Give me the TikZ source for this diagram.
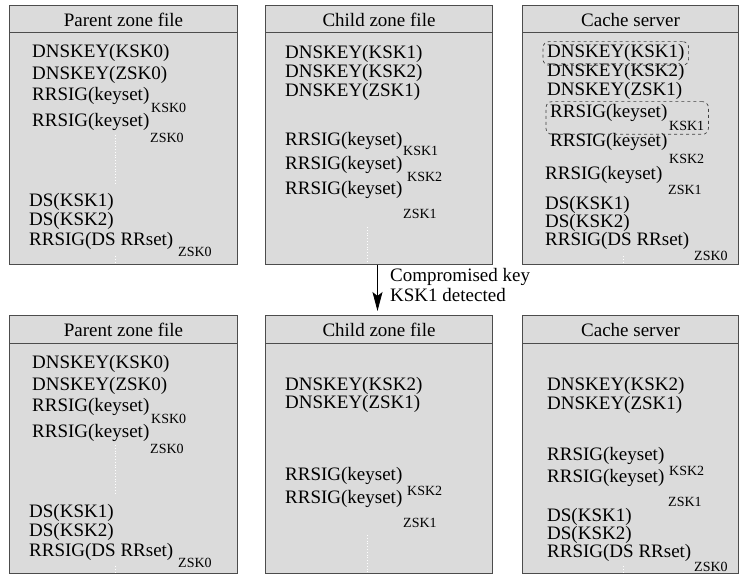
\documentclass[tikz,border=0pt]{standalone}
\usepackage{fontspec}
\setmainfont{Liberation Serif}
\usetikzlibrary{arrows.meta,fit}

\begin{document}
\begin{tikzpicture}[
  x=1pt,y=-1pt,
  >=Stealth,
  zonebox/.style={
    draw=black!70,
    fill=black!14,
    line width=1pt,
    anchor=north west,
    inner sep=0pt
  },
  title/.style={font=\fontsize{19}{20}\selectfont,anchor=base,inner sep=0pt},
  rec/.style={font=\fontsize{19}{20}\selectfont,anchor=base west,inner sep=0pt},
  signer/.style={font=\fontsize{14}{15}\selectfont,anchor=base west,inner sep=0pt},
  gap/.style={draw=white,dotted,line width=0.8pt},
  flagbox/.style={
    draw=black!75,
    dashed,
    rounded corners=6pt,
    line width=0.7pt,
    inner xsep=4pt,
    inner ysep=3pt
  }
]
\useasboundingbox (0,0) rectangle (740,575);

% 親ゾーン (上下とも同じ内容)
\foreach \r/\dy/\h in {a/0/259,b/310/258}{
  \node[zonebox,minimum width=228pt,minimum height=\h pt] (p\r) at (9,{5+\dy}) {};
  \draw[draw=black!70,line width=1pt]
    ([yshift=-28pt]p\r.north west) -- ([yshift=-28pt]p\r.north east);
  \node[title] (p\r t) at ([yshift=-22pt]p\r.north) {Parent zone file};

  \node[rec] (p\r 1) at (32,{58+\dy}) {DNSKEY(KSK0)};
  \node[rec] (p\r 2) at (32,{80+\dy}) {DNSKEY(ZSK0)};
  \node[rec] (p\r 3) at (32,{101+\dy}) {RRSIG(keyset)};
  \node[signer] (p\r 3s) at (151,{113+\dy}) {KSK0};
  \node[rec] (p\r 4) at (32,{127+\dy}) {RRSIG(keyset)};
  \node[signer] (p\r 4s) at (150,{143+\dy}) {ZSK0};
  \draw[gap] (115,{135+\dy}) -- (115,{183+\dy});
  \node[rec] (p\r 5) at (29,{207+\dy}) {DS(KSK1)};
  \node[rec] (p\r 6) at (29,{226+\dy}) {DS(KSK2)};
  \node[rec] (p\r 7) at (29,{246+\dy}) {RRSIG(DS RRset)};
  \node[signer] (p\r 7s) at (178,{257+\dy}) {ZSK0};
  \draw[gap] (115,{256+\dy}) -- (115,{263+\dy});
}

% 子ゾーン (検出前)
\node[zonebox,minimum width=227pt,minimum height=259pt] (ca) at (265,5) {};
\draw[draw=black!70,line width=1pt]
  ([yshift=-28pt]ca.north west) -- ([yshift=-28pt]ca.north east);
\node[title] (cat) at ([yshift=-22pt]ca.north) {Child zone file};
\node[rec] (ca1) at (285,59) {DNSKEY(KSK1)};
\node[rec] (ca2) at (285,78) {DNSKEY(KSK2)};
\node[rec] (ca3) at (285,97) {DNSKEY(ZSK1)};
\node[rec] (ca4) at (285,146) {RRSIG(keyset)};
\node[signer] (ca4s) at (403,156) {KSK1};
\node[rec] (ca5) at (285,170) {RRSIG(keyset)};
\node[signer] (ca5s) at (407,182) {KSK2};
\node[rec] (ca6) at (285,195) {RRSIG(keyset)};
\node[signer] (ca6s) at (403,219) {ZSK1};
\draw[gap] (367,227) -- (367,263);

% キャッシュサーバ (検出前)
\node[zonebox,minimum width=216pt,minimum height=259pt] (sa) at (522,5) {};
\draw[draw=black!70,line width=1pt]
  ([yshift=-28pt]sa.north west) -- ([yshift=-28pt]sa.north east);
\node[title] (sat) at ([yshift=-22pt]sa.north) {Cache server};
\node[rec] (sa1) at (547,58) {DNSKEY(KSK1)};
\node[rec] (sa2) at (547,77) {DNSKEY(KSK2)};
\node[rec] (sa3) at (547,96) {DNSKEY(ZSK1)};
\node[rec] (sa4) at (550,118) {RRSIG(keyset)};
\node[signer] (sa4s) at (669,131) {KSK1};
\node[rec] (sa5) at (550,147) {RRSIG(keyset)};
\node[signer] (sa5s) at (669,164) {KSK2};
\node[rec] (sa6) at (545,180) {RRSIG(keyset)};
\node[signer] (sa6s) at (668,195) {ZSK1};
\node[rec] (sa7) at (545,210) {DS(KSK1)};
\node[rec] (sa8) at (545,228) {DS(KSK2)};
\node[rec] (sa9) at (545,246) {RRSIG(DS RRset)};
\node[signer] (sa9s) at (694,261) {ZSK0};
\draw[gap] (623,256) -- (623,263);

% 破棄すべきレコード
\node[flagbox,fit=(sa1)] (flag1) {};
\node[flagbox,fit=(sa4)(sa4s)] (flag2) {};

% 子ゾーン (検出後)
\node[zonebox,minimum width=227pt,minimum height=258pt] (cb) at (265,315) {};
\draw[draw=black!70,line width=1pt]
  ([yshift=-28pt]cb.north west) -- ([yshift=-28pt]cb.north east);
\node[title] (cbt) at ([yshift=-22pt]cb.north) {Child zone file};
\node[rec] (cb1) at (285,390) {DNSKEY(KSK2)};
\node[rec] (cb2) at (285,408) {DNSKEY(ZSK1)};
\node[rec] (cb3) at (285,480) {RRSIG(keyset)};
\node[signer] (cb3s) at (407,495) {KSK2};
\node[rec] (cb4) at (285,503) {RRSIG(keyset)};
\node[signer] (cb4s) at (403,527) {ZSK1};
\draw[gap] (367,535) -- (367,573);

% キャッシュサーバ (検出後)
\node[zonebox,minimum width=216pt,minimum height=258pt] (sb) at (522,315) {};
\draw[draw=black!70,line width=1pt]
  ([yshift=-28pt]sb.north west) -- ([yshift=-28pt]sb.north east);
\node[title] (sbt) at ([yshift=-22pt]sb.north) {Cache server};
\node[rec] (sb1) at (547,390) {DNSKEY(KSK2)};
\node[rec] (sb2) at (547,409) {DNSKEY(ZSK1)};
\node[rec] (sb3) at (547,460) {RRSIG(keyset)};
\node[signer] (sb3s) at (669,475) {KSK2};
\node[rec] (sb4) at (547,482) {RRSIG(keyset)};
\node[signer] (sb4s) at (668,506) {ZSK1};
\node[rec] (sb5) at (547,521) {DS(KSK1)};
\node[rec] (sb6) at (547,539) {DS(KSK2)};
\node[rec] (sb7) at (547,557) {RRSIG(DS RRset)};
\node[signer] (sb7s) at (694,571) {ZSK0};
\draw[gap] (623,566) -- (623,573);

% 鍵の漏洩を検出
\draw[line width=0.8pt,-{Stealth[length=19pt,width=10pt,inset=4pt]},shorten >=4pt]
  ([xshift=-1.5pt]ca.south) -- ([xshift=-1.5pt]cb.north);
\node[font=\fontsize{19}{20}\selectfont,align=left,anchor=north west,inner sep=0pt]
  (detect) at (390,268) {Compromised key\\KSK1 detected};
\end{tikzpicture}
\end{document}
